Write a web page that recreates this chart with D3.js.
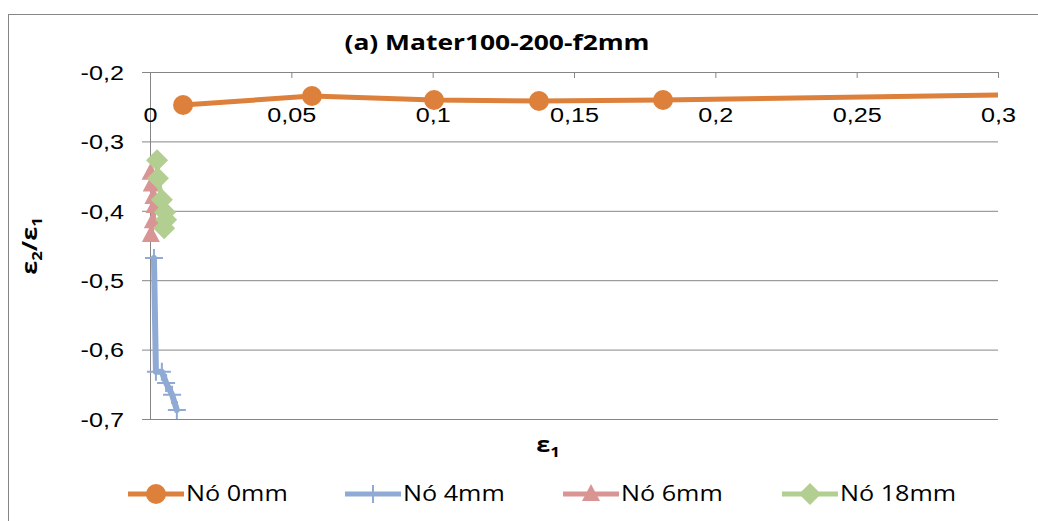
<!DOCTYPE html>
<html>
<head>
<meta charset="utf-8">
<script src="https://cdn.jsdelivr.net/npm/d3@7"></script>
<style>
  html, body { margin: 0; padding: 0; background: #fff; }
  svg { display: block; font-family: "Open Sans", "Noto Sans", sans-serif; }
</style>
</head>
<body>
<svg id="chart" width="1038" height="521"></svg>
<script>
// Strain ratio ε2/ε1 against ε1 for each node
const titleText = "(a) Mater100-200-f2mm";
const xTicks = [0, 0.05, 0.1, 0.15, 0.2, 0.25, 0.3];
const xTickLabels = ["0", "0,05", "0,1", "0,15", "0,2", "0,25", "0,3"];
const yTicks = [-0.2, -0.3, -0.4, -0.5, -0.6, -0.7];
const yTickLabels = ["-0,2", "-0,3", "-0,4", "-0,5", "-0,6", "-0,7"];

const node0X = [0.0117, 0.0573, 0.1005, 0.1376, 0.1815, 0.32];
const node0Y = [-0.2476, -0.2346, -0.2403, -0.2418, -0.2403, -0.2320];

const node4X = [0.0014, 0.0021, 0.0042, 0.0057, 0.0078, 0.0095];
const node4Y = [-0.468, -0.632, -0.632, -0.648, -0.665, -0.687];

const node6X = [0.0002, 0.0006, 0.0012, 0.0016, 0.0010, 0.0003];
const node6Y = [-0.345, -0.362, -0.380, -0.393, -0.415, -0.435];

const node18X = [0.0025, 0.0028, 0.0042, 0.0053, 0.0057, 0.0050];
const node18Y = [-0.327, -0.353, -0.384, -0.402, -0.413, -0.425];

const seriesNames = ["Nó 0mm", "Nó 4mm", "Nó 6mm", "Nó 18mm"];
const seriesColors = ["#DD803B", "#8FAAD5", "#D99594", "#B2CE91"];
const seriesMarkers = ["circle", "plus", "triangle", "diamond"];

const svg = d3.select("#chart");
const x = d3.scaleLinear().domain([0, 0.3]).range([150, 998]);
const y = d3.scaleLinear().domain([-0.2, -0.7]).range([72, 419]);
const grid = "#868686";
const stretch = 1.2; // text is drawn slightly wide

// places text at (px, py) with a horizontal stretch
function label(parent, px, py, anchor, size, weight) {
  return parent.append("text")
    .attr("transform", `translate(${px},${py}) scale(${stretch},1)`)
    .attr("text-anchor", anchor).attr("font-size", size)
    .attr("font-weight", weight || "normal").attr("fill", "#000");
}

// outer chart frame
svg.append("rect").attr("x", 8.5).attr("y", 14.5).attr("width", 1100).attr("height", 600)
  .attr("fill", "none").attr("stroke", grid).attr("stroke-width", 1);

// title
label(svg, 497, 50, "middle", 22, "bold").text(titleText);

// horizontal gridlines with left tick marks
const yAxis = d3.axisLeft(y).tickValues(yTicks).tickSize(8)
  .tickFormat((d, i) => yTickLabels[i]);
const gy = svg.append("g").attr("transform", "translate(150,0)").call(yAxis);
gy.select(".domain").attr("stroke", grid);
gy.selectAll(".tick line").attr("stroke", grid);
gy.selectAll(".tick").append("line").attr("x1", 0).attr("x2", 848).attr("stroke", grid);
gy.selectAll(".tick text").remove();
gy.selectAll(".tick").each(function(d, i) {
  label(d3.select(this), -26, 0, "end", 21).attr("dy", "0.35em").text(yTickLabels[i]);
});

// horizontal axis along the top, labels set lower
const xAxis = d3.axisBottom(x).tickValues(xTicks).tickSize(6)
  .tickFormat((d, i) => xTickLabels[i]);
const gx = svg.append("g").attr("transform", "translate(0,72)").call(xAxis);
gx.select(".domain").attr("stroke", grid).attr("d", "M142,0.5H998.5");
gx.selectAll(".tick line").attr("stroke", grid);
gx.selectAll(".tick text").remove();
gx.selectAll(".tick").each(function(d, i) {
  label(d3.select(this), 0, 43, "middle", 21).attr("dy", "0.35em").text(xTickLabels[i]);
});

// axis titles
svg.append("text").attr("transform", `translate(37,246) rotate(-90) scale(${stretch},1)`)
  .attr("text-anchor", "middle").attr("font-size", 21).attr("font-weight", "bold")
  .html('ε<tspan font-size="14" dy="5">2</tspan><tspan dy="-5">/ε</tspan><tspan font-size="14" dy="5">1</tspan>');
label(svg, 548, 452, "middle", 21, "bold")
  .html('ε<tspan font-size="14" dy="5">1</tspan>');

// clip for plot area
svg.append("clipPath").attr("id", "plot").append("rect")
  .attr("x", 130).attr("y", 40).attr("width", 868).attr("height", 400);

function marker(g, type, color, cx, cy) {
  if (type === "circle") {
    g.append("circle").attr("cx", cx).attr("cy", cy).attr("r", 10).attr("fill", color);
  } else if (type === "plus") {
    g.append("path").attr("d", `M${cx - 9},${cy}H${cx + 9}M${cx},${cy - 9}V${cy + 9}`)
      .attr("stroke", color).attr("stroke-width", 2).attr("fill", "none");
  } else if (type === "triangle") {
    g.append("path").attr("d", `M${cx},${cy - 10}L${cx + 9},${cy + 7}L${cx - 9},${cy + 7}Z`)
      .attr("fill", color);
  } else if (type === "diamond") {
    g.append("path").attr("d", `M${cx},${cy - 11}L${cx + 11},${cy}L${cx},${cy + 11}L${cx - 11},${cy}Z`)
      .attr("fill", color);
  }
}

const allX = [node0X, node4X, node6X, node18X];
const allY = [node0Y, node4Y, node6Y, node18Y];
const line = d3.line().x(d => x(d[0])).y(d => y(d[1]));
const plot = svg.append("g").attr("clip-path", "url(#plot)");

// draw in order: 4mm, 6mm, 18mm, then 0mm on top
[1, 2, 3, 0].forEach(i => {
  const pts = allX[i].map((v, k) => [v, allY[i][k]]);
  const g = plot.append("g");
  g.append("path").attr("d", line(pts)).attr("fill", "none")
    .attr("stroke", seriesColors[i]).attr("stroke-width", i === 1 ? 6 : 5)
    .attr("stroke-linejoin", "round").attr("stroke-linecap", "round");
  pts.forEach(p => marker(g, seriesMarkers[i], seriesColors[i], x(p[0]), y(p[1])));
});

// legend
const legendX = [128, 345, 563, 782];
seriesNames.forEach((name, i) => {
  const g = svg.append("g");
  const lx = legendX[i], ly = 494;
  g.append("line").attr("x1", lx).attr("x2", lx + 56).attr("y1", ly).attr("y2", ly)
    .attr("stroke", seriesColors[i]).attr("stroke-width", 5);
  marker(g, seriesMarkers[i], seriesColors[i], lx + 28, ly);
  label(g, lx + 58, ly, "start", 21).attr("dy", "0.35em").text(name);
});
</script>
</body>
</html>
